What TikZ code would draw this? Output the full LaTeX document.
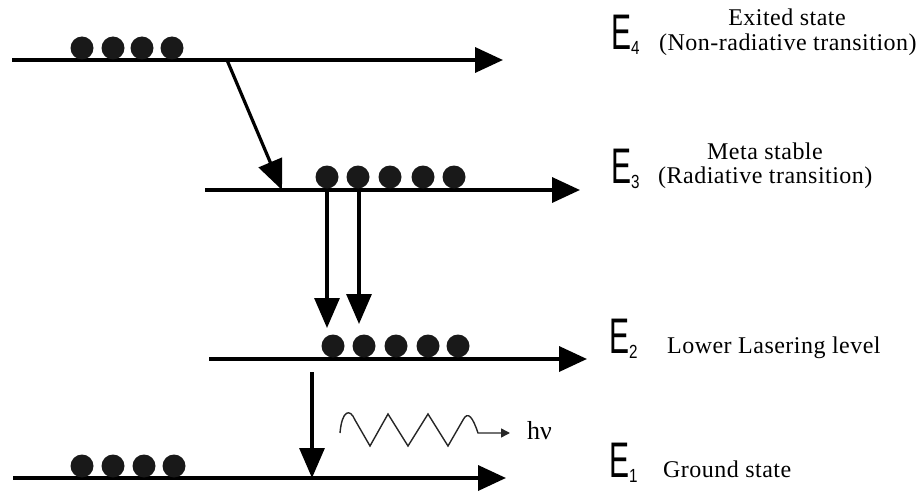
\documentclass[tikz,border=0pt]{standalone}
\usepackage{fontspec}
\usepackage{graphicx}
\setmainfont{Liberation Serif}
\newfontfamily\esans{Liberation Sans}
\usetikzlibrary{arrows.meta}
\tikzset{
  level/.style={line width=3.6pt, -{Triangle[length=28pt,width=25pt]}},
  trans/.style={line width=3.2pt, -{Triangle[length=30pt,width=25pt]}},
  ball/.style={circle, fill=black!90, minimum size=23pt, inner sep=0pt},
  elab/.style={inner sep=0pt, anchor=base west, font=\esans\fontsize{50}{50}\selectfont},
  txt/.style={inner sep=0pt, anchor=base west, font=\fontsize{24}{26}\selectfont\addfontfeature{LetterSpace=2}},
  wave/.style={line width=1.4pt, draw=black!85, -{Triangle[length=9pt,width=9pt]}}
}
\newcommand{\Elev}[1]{\scalebox{0.6}[1]{E}\raisebox{-5pt}{\fontsize{19}{19}\selectfont\scalebox{0.8}[1]{#1}}}
\begin{document}
\begin{tikzpicture}[x=1pt,y=-1pt]
\useasboundingbox (0,0) rectangle (922,495);
% levels
\coordinate (l4s) at (12,60);  \coordinate (l4e) at (503,60);
\coordinate (l3s) at (205,190); \coordinate (l3e) at (580,190);
\coordinate (l2s) at (209,359); \coordinate (l2e) at (587,359);
\coordinate (l1s) at (13,478);  \coordinate (l1e) at (506,478);
\draw[level] (l4s) -- (l4e);
\draw[level] (l3s) -- (l3e);
\draw[level] (l2s) -- (l2e);
\draw[level] (l1s) -- (l1e);
% balls
\foreach \x [count=\i] in {82,113,142,172} \node[ball] (a\i) at (\x,48) {};
\foreach \x [count=\i] in {327,358,390,423,454} \node[ball] (b\i) at (\x,177) {};
\foreach \x [count=\i] in {333,364,396,428,458} \node[ball] (c\i) at (\x,346) {};
\foreach \x [count=\i] in {82,113,144,174} \node[ball] (d\i) at (\x,466) {};
% transitions
\coordinate (t1s) at (227,60); \coordinate (t1e) at (282,190);
\draw[trans] (t1s) -- (t1e);
\coordinate (t2s) at (327,190); \coordinate (t2e) at (327,328);
\coordinate (t3s) at (359,190); \coordinate (t3e) at (359,324);
\draw[trans] (t2s) -- (t2e);
\draw[trans] (t3s) -- (t3e);
\coordinate (t4s) at (312,372); \coordinate (t4e) at (312,478);
\draw[trans] (t4s) -- (t4e);
% photon
\node[inner sep=0pt, anchor=west, font=\fontsize{26}{26}\selectfont] (hv) at (527,431) {hν};
\coordinate (wv) at (340,433);
\coordinate (wt) at (510,433);
\draw[wave] (wv) .. controls (342,410) and (350,408) .. (355,420)
  -- (370,446) -- (388,414) -- (408,446) -- (428,414) -- (448,446) -- (463,420)
  .. controls (468,410) and (473,418) .. (478,433) -- (wt);
% labels
\node[elab] (E4) at (611,50) {\Elev{4}};
\node[elab] (E3) at (611,183) {\Elev{3}};
\node[elab] (E2) at (609,353) {\Elev{2}};
\node[elab] (E1) at (609,477) {\Elev{1}};
\node[txt, anchor=base] (x4a) at (787,26) {Exited state};
\node[txt] (x4b) at (659,51) {(Non-radiative transition)};
\node[txt, anchor=base] (x3a) at (765,159) {Meta stable};
\node[txt] (x3b) at (658,183) {(Radiative transition)};
\node[txt] (x2) at (667,353) {Lower Lasering level};
\node[txt] (x1) at (663,477) {Ground state};
\end{tikzpicture}
\end{document}
